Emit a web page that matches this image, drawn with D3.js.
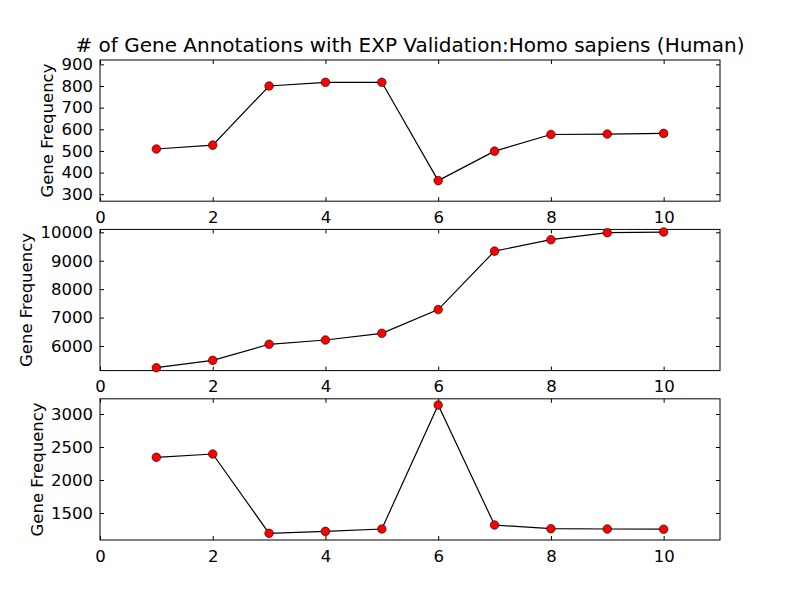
<!DOCTYPE html>
<html>
<head>
<meta charset="utf-8">
<script src="https://cdn.jsdelivr.net/npm/d3@7"></script>
<style>
  body { margin: 0; background: #fff; }
  text { font-family: "DejaVu Sans", sans-serif; fill: #000; }
</style>
</head>
<body>
<div class="canvas"></div>
<script>
// data
const bins = [1, 2, 3, 4, 5, 6, 7, 8, 9, 10];
const freqTop = [509, 527, 800, 817, 817, 363, 499, 576, 578, 581];
const freqMid = [5236, 5496, 6060, 6211, 6447, 7282, 9338, 9740, 9986, 10010];
const freqBot = [2344, 2394, 1192, 1222, 1258, 3136, 1318, 1262, 1258, 1255];
const xTicks = [0, 2, 4, 6, 8, 10];
const yTicksTop = [300, 400, 500, 600, 700, 800, 900];
const yTicksMid = [6000, 7000, 8000, 9000, 10000];
const yTicksBot = [1500, 2000, 2500, 3000];
const title = '# of Gene Annotations with EXP Validation:Homo sapiens (Human)';
const yLabel = 'Gene Frequency';

const WIDTH = 800, HEIGHT = 600;
const LEFT = 100, RIGHT = 720;
const TOP = 60, BOTTOM = 540;
const PANEL_H = (BOTTOM - TOP) / 3.4;
const GAP = PANEL_H * 0.2;
const TICK = 4;
const FONT = '16.5px';

const panels = [
  { values: freqTop, domain: [268, 920], ticks: yTicksTop },
  { values: freqMid, domain: [5135, 10102], ticks: yTicksMid },
  { values: freqBot, domain: [1091, 3230], ticks: yTicksBot }
];

const svg = d3.select('.canvas').append('svg')
  .attr('width', WIDTH)
  .attr('height', HEIGHT);

const x = d3.scaleLinear().domain([0, 11]).range([0, RIGHT - LEFT]);

svg.append('text')
  .attr('x', (LEFT + RIGHT) / 2)
  .attr('y', 52)
  .attr('text-anchor', 'middle')
  .style('font-size', '20px')
  .text(title);

panels.forEach(function(p, i) {
  const top = TOP + i * (PANEL_H + GAP);
  const w = RIGHT - LEFT;
  const y = d3.scaleLinear().domain(p.domain).range([PANEL_H, 0]);

  const graph = svg.append('g')
    .attr('transform', `translate(${LEFT}, ${top})`);

  //ticks on all four sides, pointing inward
  graph.append('g')
    .attr('transform', `translate(0, ${PANEL_H})`)
    .call(d3.axisBottom(x).tickValues(xTicks).tickFormat(d3.format('d'))
      .tickSizeInner(-TICK).tickSizeOuter(0).tickPadding(TICK + 6));
  graph.append('g')
    .call(d3.axisTop(x).tickValues(xTicks).tickSizeInner(-TICK).tickSizeOuter(0).tickFormat(''));
  const yLeft = graph.append('g')
    .call(d3.axisLeft(y).tickValues(p.ticks).tickFormat(d3.format('d'))
      .tickSizeInner(-TICK).tickSizeOuter(0).tickPadding(TICK + 3));
  graph.append('g')
    .attr('transform', `translate(${w}, 0)`)
    .call(d3.axisRight(y).tickValues(p.ticks).tickSizeInner(-TICK).tickSizeOuter(0).tickFormat(''));

  graph.selectAll('.domain').remove();
  graph.selectAll('.tick line').attr('stroke', '#000').attr('stroke-width', 1);
  graph.selectAll('.tick text')
    .style('font-family', '"DejaVu Sans", sans-serif')
    .style('font-size', FONT)
    .attr('fill', '#000');

  //frame
  graph.append('rect')
    .attr('width', w)
    .attr('height', PANEL_H)
    .attr('fill', 'none')
    .attr('stroke', '#000')
    .attr('stroke-width', 1);

  const line = d3.line()
    .x(function(d, j) { return x(bins[j]); })
    .y(function(d) { return y(d); });

  graph.append('path')
    .datum(p.values)
    .attr('d', line)
    .attr('fill', 'none')
    .attr('stroke', '#000')
    .attr('stroke-width', 1.2);

  graph.selectAll('circle')
    .data(p.values)
    .enter().append('circle')
    .attr('cx', function(d, j) { return x(bins[j]); })
    .attr('cy', function(d) { return y(d); })
    .attr('r', 4.3)
    .attr('fill', '#ff0000')
    .attr('stroke', '#000')
    .attr('stroke-width', 0.6);

  //y label sits left of the widest tick label
  let minX = 0;
  yLeft.selectAll('.tick text').each(function() {
    minX = Math.min(minX, this.getBBox().x);
  });
  graph.append('text')
    .attr('transform', `translate(${minX - 14}, ${PANEL_H / 2}) rotate(-90)`)
    .attr('text-anchor', 'middle')
    .attr('dominant-baseline', 'central')
    .style('font-size', FONT)
    .text(yLabel);
});
</script>
</body>
</html>
